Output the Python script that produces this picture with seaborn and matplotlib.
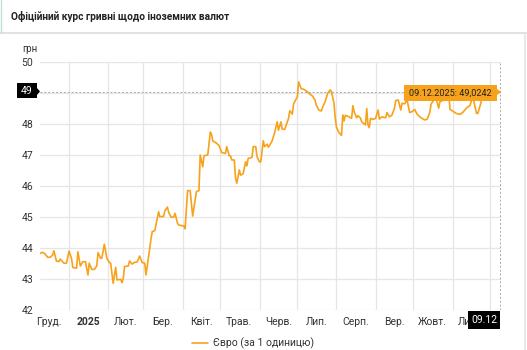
import matplotlib
matplotlib.use("Agg")
import matplotlib.pyplot as plt
import matplotlib.dates as mdates
from matplotlib.patches import Rectangle, Polygon
from matplotlib.lines import Line2D
import pandas as pd
import seaborn as sns

# ---------------- data ----------------
title = "Офіційний курс гривні щодо іноземних валют"
unit_label = "грн"
series_name = "Євро (за 1 одиницю)"

dates = [
    "2024-12-09", "2024-12-11", "2024-12-13", "2024-12-15", "2024-12-17", "2024-12-19",
    "2024-12-20", "2024-12-22", "2024-12-24", "2024-12-25", "2024-12-26", "2024-12-28",
    "2024-12-30", "2025-01-01", "2025-01-03", "2025-01-04", "2025-01-07", "2025-01-08",
    "2025-01-10", "2025-01-12", "2025-01-14", "2025-01-16", "2025-01-17", "2025-01-19",
    "2025-01-21", "2025-01-23", "2025-01-24", "2025-01-26", "2025-01-27", "2025-01-29",
    "2025-01-31", "2025-02-02", "2025-02-03", "2025-02-05", "2025-02-07", "2025-02-08",
    "2025-02-11", "2025-02-12", "2025-02-13", "2025-02-14", "2025-02-17", "2025-02-18",
    "2025-02-20", "2025-02-22", "2025-02-24", "2025-02-26", "2025-02-28", "2025-03-02",
    "2025-03-03", "2025-03-06", "2025-03-07", "2025-03-08", "2025-03-10", "2025-03-11",
    "2025-03-13", "2025-03-14", "2025-03-17", "2025-03-18", "2025-03-20", "2025-03-21",
    "2025-03-23", "2025-03-25", "2025-03-26", "2025-03-28", "2025-03-29", "2025-04-02",
    "2025-04-03", "2025-04-05", "2025-04-07", "2025-04-08", "2025-04-09", "2025-04-11",
    "2025-04-12", "2025-04-14", "2025-04-15", "2025-04-17", "2025-04-18", "2025-04-21",
    "2025-04-23", "2025-04-24", "2025-04-25", "2025-04-28", "2025-04-30", "2025-05-02",
    "2025-05-05", "2025-05-06", "2025-05-08", "2025-05-09", "2025-05-10", "2025-05-12",
    "2025-05-13", "2025-05-14", "2025-05-16", "2025-05-17", "2025-05-19", "2025-05-21",
    "2025-05-22", "2025-05-23", "2025-05-26", "2025-05-27", "2025-05-29", "2025-05-30",
    "2025-06-01", "2025-06-02", "2025-06-04", "2025-06-05", "2025-06-07", "2025-06-08",
    "2025-06-10", "2025-06-11", "2025-06-13", "2025-06-15", "2025-06-16", "2025-06-18",
    "2025-06-19", "2025-06-21", "2025-06-23", "2025-06-24", "2025-06-25", "2025-06-27",
    "2025-06-28", "2025-07-01", "2025-07-02", "2025-07-04", "2025-07-06", "2025-07-09",
    "2025-07-11", "2025-07-13", "2025-07-15", "2025-07-16", "2025-07-18", "2025-07-20",
    "2025-07-21", "2025-07-23", "2025-07-25", "2025-07-27", "2025-07-28", "2025-07-30",
    "2025-07-31", "2025-08-01", "2025-08-03", "2025-08-05", "2025-08-06", "2025-08-07",
    "2025-08-08", "2025-08-11", "2025-08-13", "2025-08-14", "2025-08-15", "2025-08-17",
    "2025-08-18", "2025-08-20", "2025-08-21", "2025-08-23", "2025-08-24", "2025-08-25",
    "2025-08-26", "2025-08-27", "2025-08-28", "2025-08-30", "2025-09-01", "2025-09-03",
    "2025-09-04", "2025-09-06", "2025-09-09", "2025-09-10", "2025-09-12", "2025-09-14",
    "2025-09-16", "2025-09-17", "2025-09-19", "2025-09-21", "2025-09-22", "2025-09-24",
    "2025-09-26", "2025-09-28", "2025-09-30", "2025-10-02", "2025-10-04", "2025-10-07",
    "2025-10-10", "2025-10-12", "2025-10-14", "2025-10-15", "2025-10-17", "2025-10-19",
    "2025-10-21", "2025-10-22", "2025-10-25", "2025-10-27", "2025-10-29", "2025-10-30",
    "2025-11-01", "2025-11-04", "2025-11-07", "2025-11-09", "2025-11-12", "2025-11-15",
    "2025-11-17", "2025-11-20", "2025-11-21", "2025-11-23", "2025-11-24", "2025-11-26",
    "2025-11-28", "2025-12-01", "2025-12-03", "2025-12-06", "2025-12-09",
]
eur_rate = [
    43.83, 43.86, 43.81, 43.70, 43.70, 43.77,
    43.91, 43.58, 43.56, 43.64, 43.60, 43.51,
    43.51, 43.90, 43.66, 43.37, 43.35, 43.88,
    43.42, 43.56, 43.56, 43.13, 43.51, 43.31,
    43.31, 43.42, 43.85, 43.67, 43.67, 44.12,
    43.67, 43.53, 43.51, 42.86, 43.38, 42.97,
    42.99, 42.88, 43.02, 43.40, 43.42, 43.58,
    43.48, 43.54, 43.55, 43.74, 43.53, 43.51,
    43.13, 43.99, 44.31, 44.53, 44.56, 44.76,
    45.17, 45.01, 45.02, 45.20, 45.32, 45.15,
    44.99, 45.00, 45.12, 44.80, 44.74, 44.71,
    44.62, 45.85, 45.85, 45.44, 45.03, 45.55,
    45.82, 45.85, 47.00, 46.62, 46.97, 47.01,
    47.74, 47.66, 47.45, 47.38, 47.30, 47.08,
    47.05, 47.27, 46.97, 46.97, 46.84, 46.84,
    46.25, 46.09, 46.52, 46.35, 46.39, 46.78,
    46.65, 46.89, 46.92, 47.27, 47.27, 46.95,
    46.78, 46.78, 47.46, 47.27, 47.35, 47.25,
    47.38, 47.46, 47.72, 48.07, 47.80, 48.07,
    47.83, 47.83, 48.07, 48.18, 48.43, 48.32,
    48.65, 48.88, 49.36, 49.14, 49.12, 49.04,
    48.96, 48.90, 48.77, 48.61, 48.45, 48.42,
    48.54, 48.72, 48.99, 49.10, 49.05, 48.68,
    48.20, 47.90, 47.72, 47.63, 48.29, 48.10,
    48.28, 48.23, 48.18, 48.59, 48.40, 48.20,
    48.27, 48.19, 48.07, 48.00, 47.97, 48.50,
    47.97, 47.88, 48.18, 48.15, 48.18, 48.45,
    48.16, 48.23, 48.20, 48.37, 48.23, 48.29,
    48.51, 48.76, 48.77, 48.45, 48.67, 48.65,
    48.77, 48.37, 48.40, 48.47, 48.31, 48.20,
    48.13, 48.16, 48.38, 48.64, 48.77, 48.83,
    48.51, 48.72, 48.77, 48.90, 48.99, 48.47,
    48.42, 48.34, 48.31, 48.37, 48.51, 48.61,
    48.90, 48.34, 48.34, 48.61, 48.77, 49.05,
    49.20, 49.10, 48.95, 49.05, 49.0242,
]

month_label_dates = ["2024-12-16", "2025-01-16", "2025-02-15", "2025-03-16", "2025-04-16",
                     "2025-05-16", "2025-06-16", "2025-07-16", "2025-08-16", "2025-09-16",
                     "2025-10-16", "2025-11-16"]
month_labels = ["Груд.", "2025", "Лют.", "Бер.", "Квіт.", "Трав.", "Черв.", "Лип.",
                "Серп.", "Вер.", "Жовт.", "Лист."]
y_ticks = [42, 43, 44, 45, 46, 47, 48, 49, 50]
crosshair_axis_label = "49"
crosshair_date_label = "09.12"
tooltip_text = "09.12.2025: 49,0242"

# ---------------- style ----------------
ORANGE = "#f7a21b"
TXT = "#333333"
GRID = "#e6e6e6"

sns.set_style("white")
plt.rcParams["font.family"] = ["Roboto", "DejaVu Sans"]

df = pd.DataFrame({"date": pd.to_datetime(dates), "value": eur_rate})

W, H = 527, 350
fig = plt.figure(figsize=(W / 100, H / 100), dpi=100)
fig.patch.set_facecolor("white")

ax = fig.add_axes([40 / W, 1 - 310 / H, (501 - 40) / W, (310 - 62) / H])
sns.lineplot(data=df, x="date", y="value", ax=ax, color=ORANGE, linewidth=1.2,
             label=series_name)

last_date = df["date"].iloc[-1]
last_val = df["value"].iloc[-1]

ax.set_ylim(42, 50)
ax.set_xlim(pd.Timestamp("2024-12-09"), last_date + pd.Timedelta(hours=10))

for s in ax.spines.values():
    s.set_visible(False)

# the "49" tick is covered by the crosshair label box in the reference
ax.set_yticks(y_ticks)
ax.set_yticklabels(["" if str(v) == crosshair_axis_label else str(v) for v in y_ticks])
ax.set_xticks(pd.to_datetime(month_label_dates))
ax.set_xticklabels(month_labels)
for t in ax.get_xticklabels():
    if t.get_text() == "2025":
        t.set_fontweight("bold")
ax.xaxis.set_minor_locator(mdates.MonthLocator())
ax.tick_params(axis="both", which="both", length=0, colors=TXT, labelsize=7.5)
ax.tick_params(axis="y", pad=5)
ax.tick_params(axis="x", pad=5)
ax.set_xlabel("")
ax.set_ylabel("")

ax.grid(False)
ax.grid(True, axis="y", which="major", color=GRID, linewidth=0.9)
ax.grid(True, axis="x", which="minor", color=GRID, linewidth=0.9)
ax.set_axisbelow(True)

# crosshair
ax.axhline(last_val, color="#a8a8a8", linewidth=0.7, linestyle=(0, (2, 2)), zorder=1)
ax.axvline(last_date, color="#a8a8a8", linewidth=0.7, linestyle=(0, (2, 2)), zorder=1)

# legend
ax.legend(loc="center", bbox_to_anchor=(253 / W, 1 - 343 / H), bbox_transform=fig.transFigure,
          frameon=False, fontsize=7.5, handlelength=1.5, handletextpad=0.5,
          labelcolor=TXT)

# title card
fig.text(11 / W, 1 - 16 / H, title, fontsize=7.3, fontweight="bold", color="#222222",
         va="center", ha="left")
fig.add_artist(Line2D([0, 1], [1 - 33 / H] * 2, color="#e2e2e2", linewidth=1.5))
fig.add_artist(Line2D([1 / W, 1 / W], [1 - 32 / H, 1], color="#bfe3cd", linewidth=1.0))
fig.add_artist(Line2D([525 / W, 525 / W], [0, 1 - 34 / H], color="#e8e8e8", linewidth=1.5))

fig.text(22 / W, 1 - 49 / H, unit_label, fontsize=7, color=TXT, va="center", ha="left")

# axis crosshair label (left)
fig.patches.append(Rectangle((17 / W, 1 - 98 / H), 20 / W, 15 / H, transform=fig.transFigure,
                             facecolor="black", edgecolor="none", zorder=5))
fig.patches.append(Polygon([(37 / W, 1 - 88 / H), (40 / W, 1 - 91.5 / H), (37 / W, 1 - 95 / H)],
                           closed=True, transform=fig.transFigure, facecolor="black",
                           edgecolor="none", zorder=5))
fig.text(27 / W, 1 - 90.5 / H, crosshair_axis_label, fontsize=7.5, color="white",
         ha="center", va="center", zorder=6)

# bottom date label
fig.patches.append(Rectangle((468 / W, 1 - 329 / H), 32 / W, 18 / H, transform=fig.transFigure,
                             facecolor="black", edgecolor="none", zorder=5))
fig.text(484 / W, 1 - 320 / H, crosshair_date_label, fontsize=7.5, color="white",
         ha="center", va="center", zorder=6)

# tooltip
fig.patches.append(Rectangle((404 / W, 1 - 101 / H), 93 / W, 16 / H, transform=fig.transFigure,
                             facecolor=ORANGE, edgecolor="none", zorder=5))
fig.patches.append(Polygon([(497 / W, 1 - 89 / H), (501 / W, 1 - 92 / H), (497 / W, 1 - 95 / H)],
                           closed=True, transform=fig.transFigure, facecolor=ORANGE,
                           edgecolor="none", zorder=5))
fig.text(450.5 / W, 1 - 93 / H, tooltip_text, fontsize=6.6, color="#222222",
         ha="center", va="center", zorder=6)

fig.savefig("out.png", dpi=100)
